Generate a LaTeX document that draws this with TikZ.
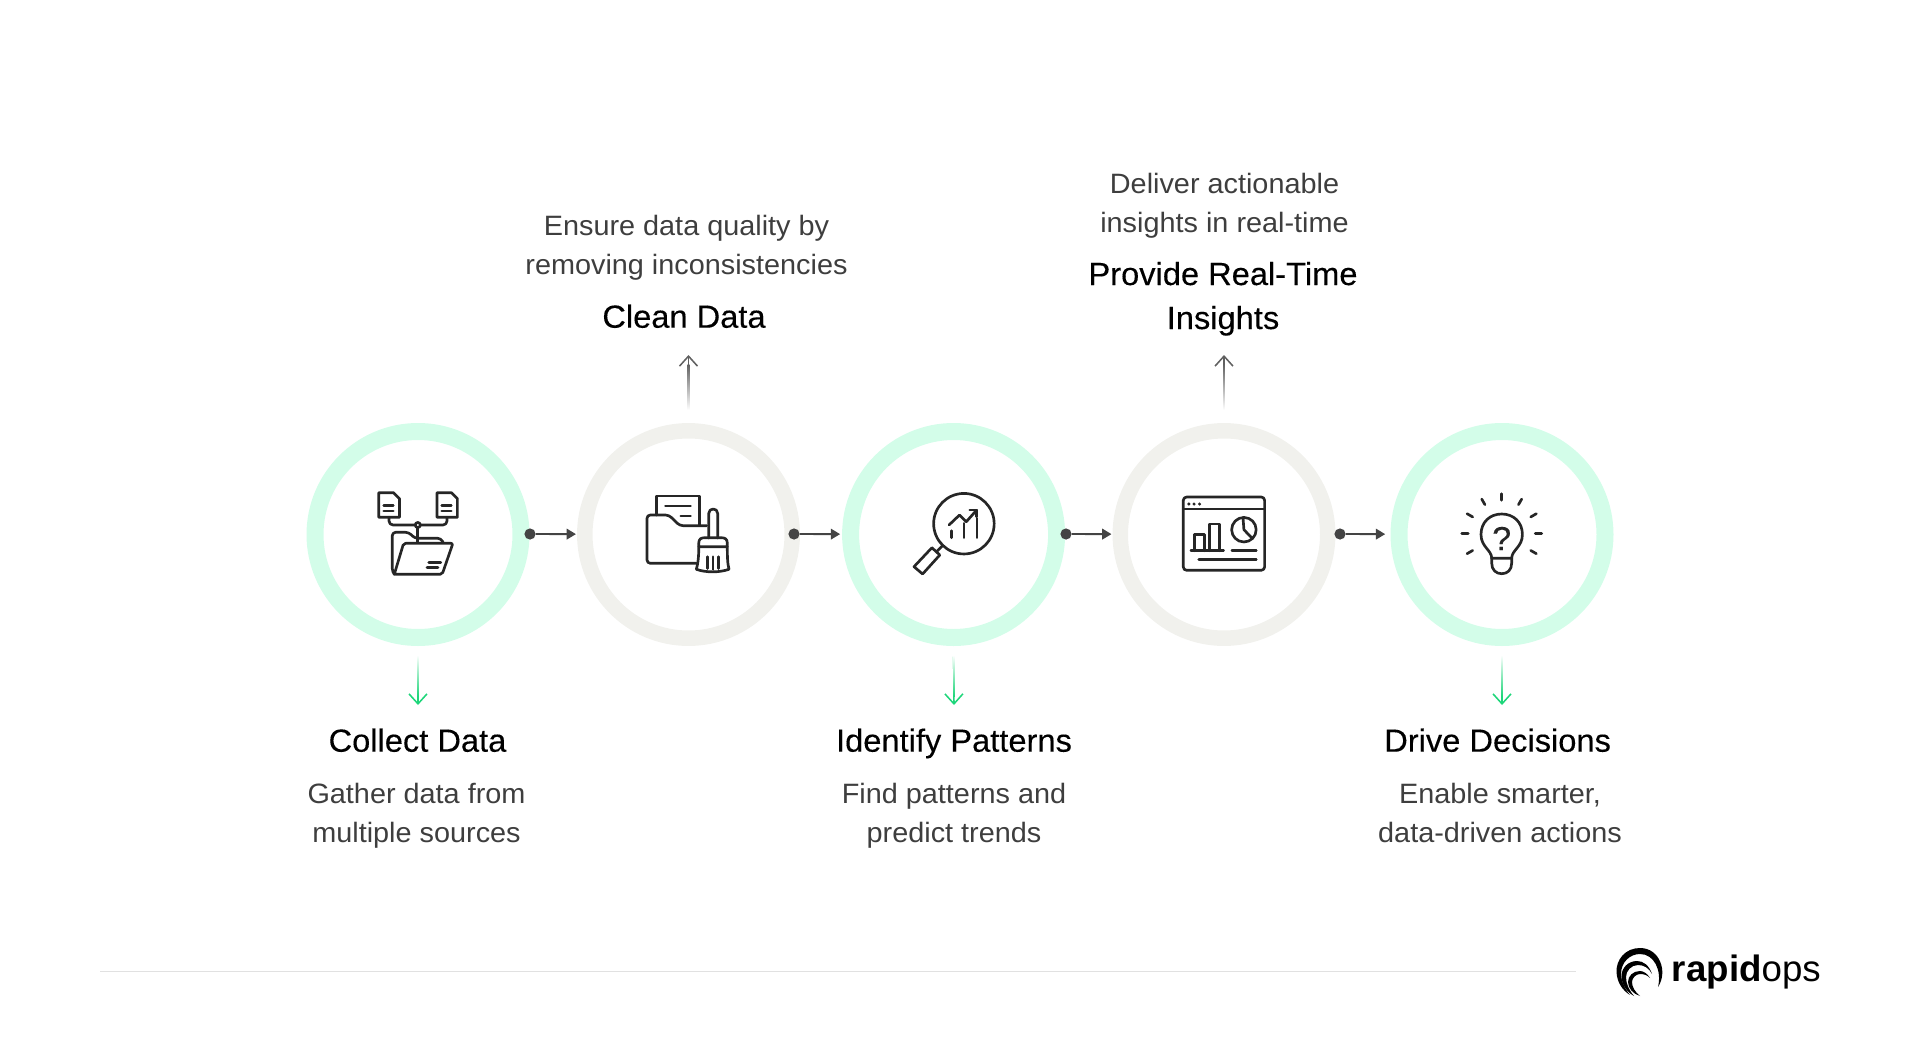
\documentclass[tikz,border=0pt]{standalone}
\usepackage{xcolor}
\usepackage{fontspec}
\usepackage{tikz}
\usetikzlibrary{arrows.meta,positioning}
\setmainfont{Liberation Sans}
\newfontfamily\headfont[FakeBold=0.25,FakeStretch=1.02]{Liberation Sans}
\newfontfamily\bodyfont[FakeStretch=1.03]{Liberation Sans}
\definecolor{ringgreen}{RGB}{211,253,233}
\definecolor{ringgray}{RGB}{241,241,237}
\definecolor{flowgreen}{RGB}{30,214,122}
\definecolor{flowdark}{RGB}{68,68,68}
\definecolor{iconink}{RGB}{38,38,38}
\definecolor{bodyink}{RGB}{62,62,62}
\definecolor{ruleline}{RGB}{225,225,225}

\begin{document}
\begin{tikzpicture}[
    x=0.75pt, y=-0.75pt,
    greenring/.style={circle, draw=ringgreen, line width=12.75pt, minimum size=154.5pt},
    grayring/.style={circle, draw=ringgray, line width=11.6pt, minimum size=155.6pt},
    flowdot/.style={circle, fill=flowdark, inner sep=0pt, minimum size=8.4pt},
    flow/.style={draw=flowdark, line width=1.4pt, -{Triangle[length=7pt,width=8pt]}},
    downflow/.style={draw=flowgreen, line width=1.15pt, shorten <=8pt, -{Straight Barb[length=7.5pt,width=13.5pt]}},
    upflow/.style={draw=flowdark!85, line width=1.15pt, shorten <=12pt, -{Straight Barb[length=7.5pt,width=13.5pt]}},
    headtext/.style={font=\headfont\fontsize{24pt}{33pt}\selectfont, text=black, align=center, inner sep=0pt, anchor=base},
    bodytext/.style={font=\bodyfont\fontsize{21pt}{29.25pt}\selectfont, text=bodyink, align=center, inner sep=0pt, anchor=base},
    icon/.style={draw=iconink, line width=2pt, line join=round, line cap=round},
    iconfill/.style={fill=iconink, draw=none},
    logoshape/.style={fill=black, draw=none},
]
    \useasboundingbox (0,0) rectangle (1920,1056);
    \node[greenring] (ring1) at (418,534.5) {};
    \node[grayring]  (ring2) at (688.5,534.5) {};
    \node[greenring] (ring3) at (953.6,534.5) {};
    \node[grayring]  (ring4) at (1224,534.5) {};
    \node[greenring] (ring5) at (1502,534.5) {};

    \node[flowdot] (dot1) at (530,534) {};
    \node[flowdot] (dot2) at (794,534) {};
    \node[flowdot] (dot3) at (1066,534) {};
    \node[flowdot] (dot4) at (1340,534) {};
    \foreach \a/\b/\gap in {1/2/0.8pt,2/3/1.5pt,3/4/0.8pt,4/5/4pt}
        \draw[flow, shorten >=\gap] (dot\a) -- (ring\b);

    \foreach \n/\xpos in {1/418,3/954,5/1502}{
        \coordinate (tip\n) at (\xpos,705);
        \draw[downflow] (ring\n.south) -- (tip\n);
        \shade[top color=white, bottom color=flowgreen] (\xpos-0.8,655) rectangle (\xpos+0.8,696);
    }
    \foreach \n/\xpos in {2/688.5,4/1224}{
        \coordinate (tip\n) at (\xpos,355);
        \draw[upflow] (ring\n.north) -- (tip\n);
        \shade[bottom color=white, top color=flowdark!85] (\xpos-0.8,364) rectangle (\xpos+0.8,410);
    }

    \node[headtext] (title1) at (417.5,751.7) {Collect Data};
    \node[headtext] (title2) at (684,327.7) {Clean Data};
    \node[headtext] (title3) at (954,751.7) {Identify Patterns};
    \node[headtext] (title4) at (1223,329) {Provide Real-Time\\Insights};
    \node[headtext] (title5) at (1497.6,751.7) {Drive Decisions};

    \node[bodytext] (text1) at (416.5,842.5) {Gather data from\\multiple sources};
    \node[bodytext] (text2) at (686.5,274.5) {Ensure data quality by\\removing inconsistencies};
    \node[bodytext] (text3) at (954,842.5) {Find patterns and\\predict trends};
    \node[bodytext] (text4) at (1224.5,232) {Deliver actionable\\insights in real-time};
    \node[bodytext] (text5) at (1500,842.5) {Enable smarter,\\data-driven actions};

    \draw[icon] (378.8,492.7) -- (393.5,492.7) -- (399.5,498.7) -- (399.5,517.3) -- (378.8,517.3) -- cycle;
    \draw[icon] (437,492.7) -- (451.4,492.7) -- (457.4,498.7) -- (457.4,517.3) -- (437,517.3) -- cycle;
    \draw[icon] (383.7,505.7) -- (393.3,505.7) (383.7,511) -- (393.3,511);
    \draw[icon] (441.7,505.7) -- (451.3,505.7) (441.7,511) -- (451.3,511);
    \draw[icon, rounded corners=3pt] (389,517.3) -- (389,525) -- (447,525) -- (447,517.3);
    \draw[icon] (417.8,527.5) -- (417.8,541.7);
    \draw[icon, fill=white] (417.8,525) circle (1.9pt);
    \draw[icon, rounded corners=2.5pt] (394,574) -- (392.3,572) -- (392.3,532.3) -- (408.8,532.3) -- (414.7,538.3) -- (441,538.3) -- (443.2,542.7);
    \draw[icon, rounded corners=1.5pt] (403.6,543.3) -- (452.9,543.3) -- (442.2,574.3) -- (394.3,574.3) -- cycle;
    \draw[icon] (428.8,562.7) -- (440.8,562.7) (427,567.7) -- (438,567.7);

    \draw[icon] (656.4,515) -- (656.4,496) -- (699.8,496) -- (699.8,525);
    \draw[icon] (665.4,506) -- (690.5,506) (680.8,516) -- (690.5,516);
    \draw[icon, rounded corners=2.5pt] (696.3,563.3) -- (647,563.3) -- (647,515) -- (668.8,515) -- (679.8,525.7) -- (706.7,525.7);
    \draw[icon] (708.7,538) -- (708.7,513.5) .. controls (708.7,507.5) and (717.7,507.5) .. (717.7,513.5) -- (717.7,538);
    \draw[icon] (698.8,546.7) -- (698.8,543) .. controls (698.8,539) and (701,537.7) .. (705,537.7) -- (721,537.7) .. controls (725,537.7) and (727.3,539) .. (727.3,543) -- (727.3,546.7) -- cycle;
    \draw[icon] (698.8,546.7) .. controls (698.8,556) and (698,564) .. (696.3,569.3) .. controls (706,572.7) and (719,572.7) .. (729,569.3) .. controls (727.5,564) and (727.3,556) .. (727.3,546.7);
    \draw[icon] (707.4,556.7) -- (707.4,568.5) (712.9,556.7) -- (712.9,569.5) (718.7,556.7) -- (718.7,568.5);

    \draw[icon] (963.9,523.7) circle (22.7pt);
    \draw[icon] (942.2,546) -- (937,551.3);
    \draw[icon] (931.9,547.7) -- (939.8,555) -- (922.6,574) -- (914,566.7) -- cycle;
    \draw[icon] (949,525) -- (959.5,515) -- (966.3,521.7) -- (976.7,510);
    \draw[icon] (969.8,510) -- (976.7,510) -- (976.7,516.7);
    \draw[icon] (951.2,530.7) -- (951.2,537.7) (963.9,523.3) -- (963.9,537.7) (977,518.3) -- (977,537.7);

    \draw[icon, rounded corners=2.5pt] (1183.3,497) rectangle (1264.6,570.3);
    \draw[icon] (1183.3,509) -- (1264.6,509);
    \foreach \xdot in {1188.8,1194,1199.5}
        \fill[iconfill] (\xdot,504) circle (1.3pt);
    \draw[icon] (1194.3,550.7) -- (1194.3,534.7) -- (1204.7,534.7) -- (1204.7,550.7);
    \draw[icon] (1209.8,550.7) -- (1209.8,524) -- (1219.4,524) -- (1219.4,550.7);
    \draw[icon] (1190.9,550.7) -- (1223.6,550.7);
    \draw[icon] (1243.9,529.7) circle (9.2pt);
    \draw[icon] (1243,517.5) -- (1243.9,529.7) -- (1252.2,538.3);
    \draw[icon] (1231.9,550.7) -- (1256.3,550.7) (1198.8,559.7) -- (1256.3,559.7);

    \foreach \ang in {-90,-60,-30,0,30,-120,-150,180,150}
        \draw[icon] ([shift={(\ang:33.5)}]1501.7,533.7) -- ([shift={(\ang:40)}]1501.7,533.7);
    \draw[icon] (1491.7,558.3) .. controls (1491.7,550) and (1481,547) .. (1481,534.5) .. controls (1481,522) and (1490,514) .. (1501.7,514) .. controls (1513.4,514) and (1522.4,522) .. (1522.4,534.5) .. controls (1522.4,547) and (1511.7,550) .. (1511.7,558.3) -- cycle;
    \draw[icon] (1491.7,558.3) -- (1491.7,563) .. controls (1491.7,570) and (1496,573.7) .. (1501.7,573.7) .. controls (1507.4,573.7) and (1511.7,570) .. (1511.7,563) -- (1511.7,558.3);
    \node[font=\headfont\fontsize{25pt}{25pt}\selectfont, text=iconink, inner sep=0pt] (qmark) at (1501.7,538.5) {?};

    \coordinate (rulestart) at (100,971.5);
    \coordinate (ruleend) at (1576,971.5);
    \draw[ruleline, line width=1.1pt] (rulestart) -- (ruleend);

    \fill[logoshape] (1658,987) .. controls (1668,972) and (1660,948) .. (1640,948) .. controls (1625,948) and (1616,960) .. (1616.5,972) .. controls (1617,982) and (1622,990) .. (1630,995) .. controls (1624,988) and (1621,980) .. (1621,974) .. controls (1621,962) and (1630,954) .. (1640,954) .. controls (1654,954) and (1662,970) .. (1658,987) -- cycle;
    \fill[logoshape] (1652,974) .. controls (1649,965) and (1643,961) .. (1637,961) .. controls (1628,961) and (1621.5,968) .. (1621.5,976) .. controls (1621.5,985) and (1627,992) .. (1634,996) .. controls (1629,990) and (1626,984) .. (1626,977) .. controls (1626,971) and (1631,965) .. (1638,965) .. controls (1644,965) and (1649,968) .. (1652,974) -- cycle;
    \fill[logoshape] (1650,978) .. controls (1647,973) and (1643,971) .. (1640,971) .. controls (1633,971) and (1628,976) .. (1628,982) .. controls (1628,988) and (1633,994) .. (1640,996) .. controls (1635,992) and (1632,987) .. (1632,982) .. controls (1632,978) and (1636,974) .. (1640,974) .. controls (1644,974) and (1647,975) .. (1650,978) -- cycle;
    \node[anchor=base west, inner sep=0pt, font=\fontsize{27.5pt}{27.5pt}\selectfont, text=black] (logoword) at (1671.7,981.7) {\textbf{rapid}ops};
\end{tikzpicture}
\end{document}
